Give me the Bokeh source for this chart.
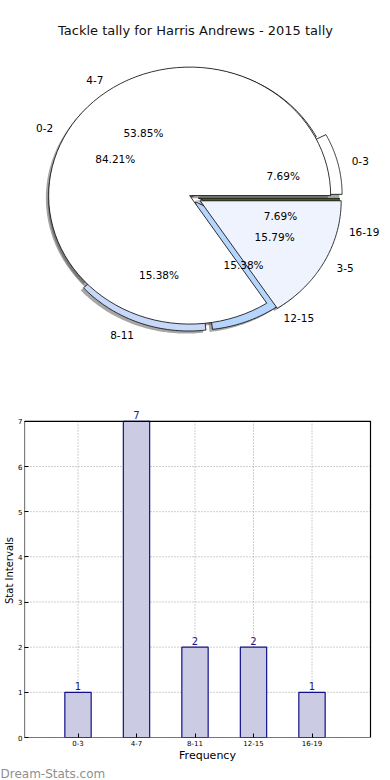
import numpy as np
from bokeh.plotting import figure
from bokeh.layouts import column
from bokeh.models import ColumnDataSource, Range1d, FixedTicker, Title
from bokeh.core.properties import value
from bokeh.embed import file_html
from bokeh.resources import INLINE

# ---------------- data ----------------
title_text = "Tackle tally for Harris Andrews - 2015 tally"

tackle_labels = ["0-3", "4-7", "8-11", "12-15", "16-19"]
tackle_counts = [1, 7, 2, 2, 1]
tackle_explode = [0.07, 0.0, 0.05, 0.05, 0.05]
tackle_colors = ["#ffffff", "#ffffff", "#c8d8f8", "#b5d5fd", "#4b5a2c"]

interval_labels = ["0-2", "3-5"]
interval_counts = [16, 3]
interval_explode = [0.015, 0.07]
interval_colors = ["#ffffff", "#eef3fd"]

bar_labels = ["0-3", "4-7", "8-11", "12-15", "16-19"]
bar_values = [1, 7, 2, 2, 1]
y_ticks = [0, 1, 2, 3, 4, 5, 6, 7]
y_max = 7

FONT = "DejaVu Sans"
F_LEFT = 24          # shared frame left edge (px) of both figures
W = 390


def pie_parts(counts, explode, colors, labels):
    counts = np.asarray(counts, dtype=float)
    fracs = counts / counts.sum()
    edges = np.concatenate([[0.0], np.cumsum(fracs)]) * 360.0
    wedges = dict(xs=[], ys=[], sx=[], sy=[], color=[])
    lab_l = dict(x=[], y=[], text=[])
    lab_r = dict(x=[], y=[], text=[])
    pct = dict(x=[], y=[], text=[])
    for i in range(len(counts)):
        t1, t2 = edges[i], edges[i + 1]
        mid = np.deg2rad((t1 + t2) / 2.0)
        ex = explode[i]
        cx, cy = ex * np.cos(mid), ex * np.sin(mid)
        arc = np.deg2rad(np.linspace(t1, t2, 90))
        xs = [cx] + list(cx + np.cos(arc))
        ys = [cy] + list(cy + np.sin(arc))
        wedges["xs"].append(xs)
        wedges["ys"].append(ys)
        wedges["sx"].append([v - 0.02 for v in xs])
        wedges["sy"].append([v - 0.02 for v in ys])
        wedges["color"].append(colors[i])
        lx, ly = cx + 1.1 * np.cos(mid), cy + 1.1 * np.sin(mid)
        d = lab_l if lx > 0 else lab_r
        d["x"].append(lx)
        d["y"].append(ly)
        d["text"].append(labels[i])
        pct["x"].append(cx + 0.6 * np.cos(mid))
        pct["y"].append(cy + 0.6 * np.sin(mid))
        pct["text"].append("%.2f%%" % (fracs[i] * 100))
    return wedges, lab_l, lab_r, pct


# ---------------- pie figure ----------------
PH = 403
RX, RY = 141.0, 128.5
CX, CY = 191.0, 196.0  # pie centre on the page (px from left / top)

pie = figure(width=W, height=PH, output_backend="svg", toolbar_location=None,
             x_range=Range1d(-(CX - F_LEFT) / RX, (W - CX) / RX),
             y_range=Range1d(-(PH - CY) / RY, CY / RY),
             min_border_left=F_LEFT, min_border_right=0,
             min_border_top=0, min_border_bottom=0)
pie.axis.visible = False
pie.grid.visible = False
pie.outline_line_color = None
pie.background_fill_color = "white"

w1, ll1, lr1, p1 = pie_parts(tackle_counts, tackle_explode, tackle_colors, tackle_labels)
w2, ll2, lr2, p2 = pie_parts(interval_counts, interval_explode, interval_colors, interval_labels)

# shadows (below all wedges)
for w in (w1, w2):
    pie.patches(xs="sx", ys="sy", source=ColumnDataSource(dict(sx=w["sx"], sy=w["sy"])),
                fill_color="#4d4d4d", fill_alpha=0.5, line_color=None)
for w in (w1, w2):
    pie.patches(xs="xs", ys="ys",
                source=ColumnDataSource(dict(xs=w["xs"], ys=w["ys"], color=w["color"])),
                fill_color="color", line_color="black", line_width=0.8)

for lab, al in ((ll1, "left"), (ll2, "left"), (lr1, "right"), (lr2, "right")):
    pie.text(x="x", y="y", text="text", source=ColumnDataSource(lab), text_align=al,
             text_baseline="middle", text_font_size="10.5px", text_color="black",
             text_font=value(FONT))
for pc in (p1, p2):
    pie.text(x="x", y="y", text="text", source=ColumnDataSource(pc), text_align="center",
             text_baseline="middle", text_font_size="10.5px", text_color="black",
             text_font=value(FONT))

pie.text(x=[(195 - CX) / RX], y=[(CY - 30) / RY], text=[title_text],
         text_align="center", text_baseline="middle", text_font_size="13px",
         text_font=value(FONT), text_color="#111111")

# ---------------- bar figure ----------------
BH = 377
F_RIGHT = 370                   # x = last slot edge (px)
TOP_PAD, BOTTOM = 18, 40        # room above y=7, bottom panel
SPACING = 58.5                  # px per x unit
x_pos = list(np.arange(1, len(bar_labels) + 1))
x_end = len(bar_labels) + 1
x_start = x_end - (F_RIGHT - F_LEFT) / SPACING
x_stop = x_end + (W - F_RIGHT) / SPACING
frame_h = BH - BOTTOM
ppu = (frame_h - TOP_PAD) / y_max
y_end = y_max + TOP_PAD / ppu

bar = figure(width=W, height=BH, output_backend="svg", toolbar_location=None,
             x_range=Range1d(x_start, x_stop), y_range=Range1d(0, y_end),
             min_border_left=F_LEFT, min_border_right=0,
             min_border_top=0, min_border_bottom=BOTTOM)
bar.background_fill_color = "white"
bar.outline_line_color = None
bar.grid.visible = False

# dotted grid limited to the plotting box
bar.multi_line(xs=[[x_start, x_end] for _ in y_ticks], ys=[[t, t] for t in y_ticks],
               line_color="#a0a0a0", line_dash="1 2", line_width=1)
bar.multi_line(xs=[[p, p] for p in x_pos], ys=[[0, y_max] for _ in x_pos],
               line_color="#a0a0a0", line_dash="1 2", line_width=1)

src = ColumnDataSource(dict(x=x_pos, top=bar_values, txt=[str(v) for v in bar_values]))
bar.vbar(x="x", top="top", width=0.45, bottom=0, source=src,
         fill_color="#cbcbe3", line_color="#10108a", line_width=1.2)
bar.text(x="x", y="top", text="txt", source=src, y_offset=-2,
         text_align="center", text_baseline="bottom",
         text_font_size="10px", text_color="#1a1a8c", text_font=value(FONT))

# plot box
bar.quad(left=[x_start], right=[x_end], bottom=[0], top=[y_max],
         fill_color=None, line_color="black", line_width=1.2)

bar.xaxis.ticker = FixedTicker(ticks=x_pos)
bar.xaxis.major_label_overrides = {int(i): l for i, l in zip(x_pos, bar_labels)}
bar.yaxis.ticker = FixedTicker(ticks=y_ticks)
for ax in (bar.xaxis[0], bar.yaxis[0]):
    ax.axis_line_color = None
    ax.major_tick_in = 4
    ax.major_tick_out = 0
    ax.minor_tick_line_color = None
    ax.major_tick_line_color = "black"
    ax.major_label_text_font_size = "7px"
    ax.major_label_text_font = FONT
    ax.major_label_text_color = "black"
    ax.axis_label_text_font_style = "normal"
    ax.axis_label_text_font = FONT
    ax.axis_label_text_color = "black"
bar.xaxis.major_label_standoff = 2
bar.yaxis.major_label_standoff = 2
bar.xaxis.axis_label = "Frequency"
bar.xaxis.axis_label_text_font_size = "11px"
bar.xaxis.axis_label_standoff = 0
bar.yaxis.axis_label = "Stat Intervals"
bar.yaxis.axis_label_text_font_size = "10px"
bar.yaxis.axis_label_standoff = 0

bar.add_layout(Title(text="Dream-Stats.com", align="left", offset=-F_LEFT, standoff=0,
                     text_font_size="12px", text_font=FONT, text_color="#8f8f8f",
                     text_font_style="normal"), "below")

layout = column(pie, bar, spacing=0)
open("out.html", "w").write(file_html(layout, INLINE))
